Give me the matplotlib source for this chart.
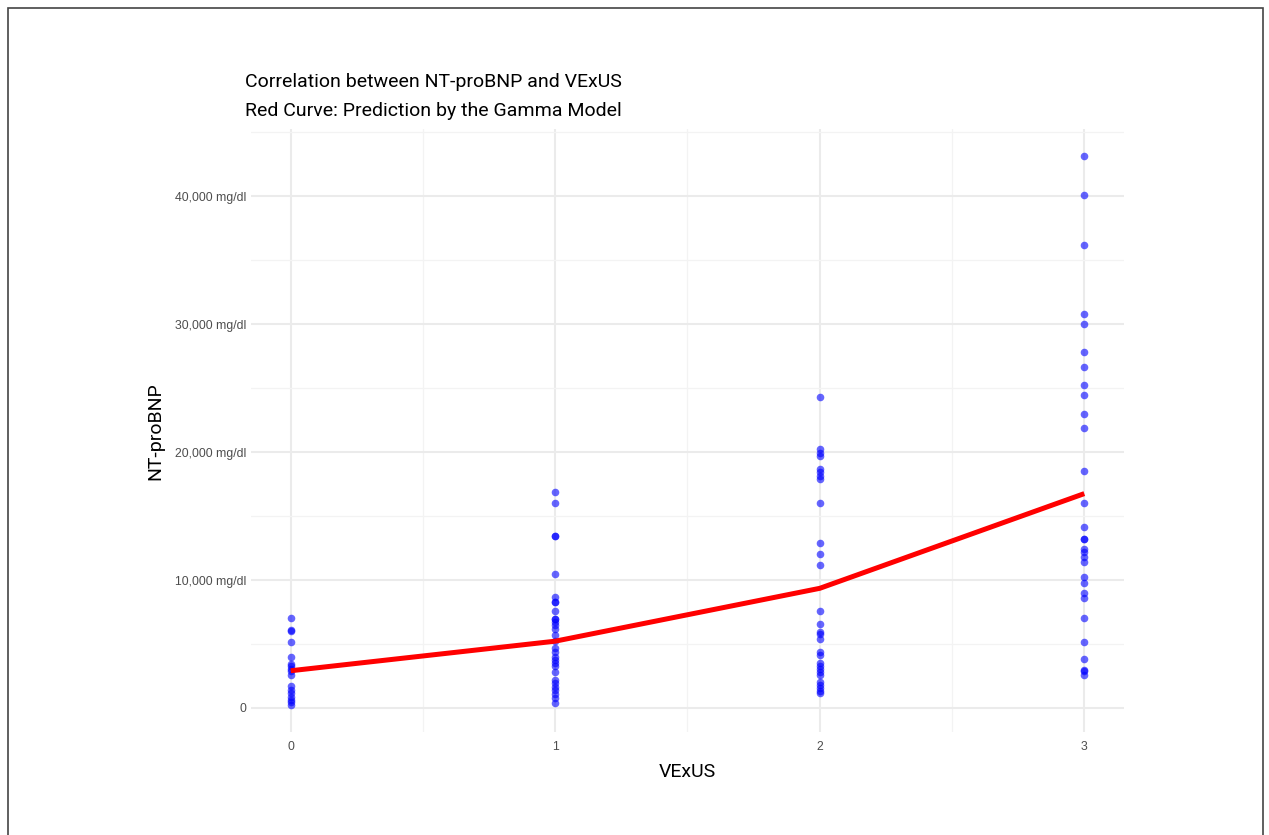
import numpy as np
import matplotlib.pyplot as plt
import matplotlib.patches as patches
from matplotlib.ticker import FuncFormatter, MultipleLocator

plt.rcParams['font.family'] = ['Liberation Sans', 'DejaVu Sans']
narrow = ['Liberation Sans Narrow', 'Roboto', 'DejaVu Sans']

# NT-proBNP readings per VExUS grade
bnp_g0 = [7000, 6100, 6000, 5150, 3950, 3400, 3250, 3050, 2900, 2600,
          1700, 1400, 1200, 850, 600, 450, 250]
bnp_g1 = [16900, 16000, 13400, 13400, 10500, 8700, 8250, 8250, 7600, 6950,
          6950, 6750, 6500, 6150, 5700, 5200, 4650, 4400, 4000, 3750,
          3500, 3250, 2800, 2200, 1950, 1650, 1400, 1100, 800, 400]
bnp_g2 = [24300, 20200, 19900, 19700, 18650, 18400, 18150, 17900, 16050, 12900,
          12000, 11200, 7600, 6600, 5900, 5750, 5400, 4400, 4150, 3550,
          3300, 3050, 2800, 2600, 2000, 1800, 1550, 1350, 1150]
bnp_g3 = [43100, 40050, 36150, 30800, 30000, 27800, 26650, 25250, 24450, 22950,
          21900, 18550, 16050, 14150, 13200, 13200, 12400, 12150, 11800, 11400,
          10250, 9800, 9000, 8600, 7050, 5150, 3800, 3000, 2900, 2600]

# fitted gamma model (log link) at each grade
grades = [0, 1, 2, 3]
gamma_fit = [2910, 5220, 9350, 16750]

fig = plt.figure(figsize=(12.69, 8.35), dpi=100)
ax = fig.add_axes([0.1978, 0.1228, 0.6879, 0.7223])

for g, vals in zip(grades, [bnp_g0, bnp_g1, bnp_g2, bnp_g3]):
    ax.scatter([g] * len(vals), vals, s=30, color='blue', alpha=0.6,
               linewidths=0, zorder=3)
ax.plot(grades, gamma_fit, color='red', lw=3.6, zorder=4, solid_capstyle='butt')

ax.set_xlim(-0.15, 3.15)
ax.set_ylim(-1912, 45212)
ax.set_xticks(grades)
ax.xaxis.set_minor_locator(MultipleLocator(0.5))
ax.set_yticks([0, 10000, 20000, 30000, 40000])
ax.yaxis.set_minor_locator(MultipleLocator(5000))
ax.yaxis.set_major_formatter(FuncFormatter(
    lambda v, p: '0' if v == 0 else f'{int(v):,} mg/dl'))

ax.grid(True, which='major', color='#ebebeb', lw=1.5)
ax.grid(True, which='minor', color='#f3f3f3', lw=0.9)
ax.set_axisbelow(True)
for s in ax.spines.values():
    s.set_visible(False)
ax.tick_params(which='both', length=0, labelsize=8.8, labelcolor='#4d4d4d')
ax.tick_params(axis='x', pad=6)
ax.tick_params(axis='y', pad=3)

ax.set_xlabel('VExUS', fontsize=14, family=narrow, labelpad=7)
ax.set_ylabel('NT-proBNP', fontsize=14, family=narrow, labelpad=8)

fig.text(0.193, 0.902, 'Correlation between NT-proBNP and VExUS',
         fontsize=14, family=narrow, va='center')
fig.text(0.193, 0.867, 'Red Curve: Prediction by the Gamma Model',
         fontsize=14, family=narrow, va='center')

fig.patches.append(patches.Rectangle(
    (8 / 1269, -0.01), 1255 / 1269, 1 - 8 / 835 + 0.01,
    transform=fig.transFigure, fill=False, edgecolor='#444444', lw=1.2))

fig.savefig('out.png', dpi=100)
